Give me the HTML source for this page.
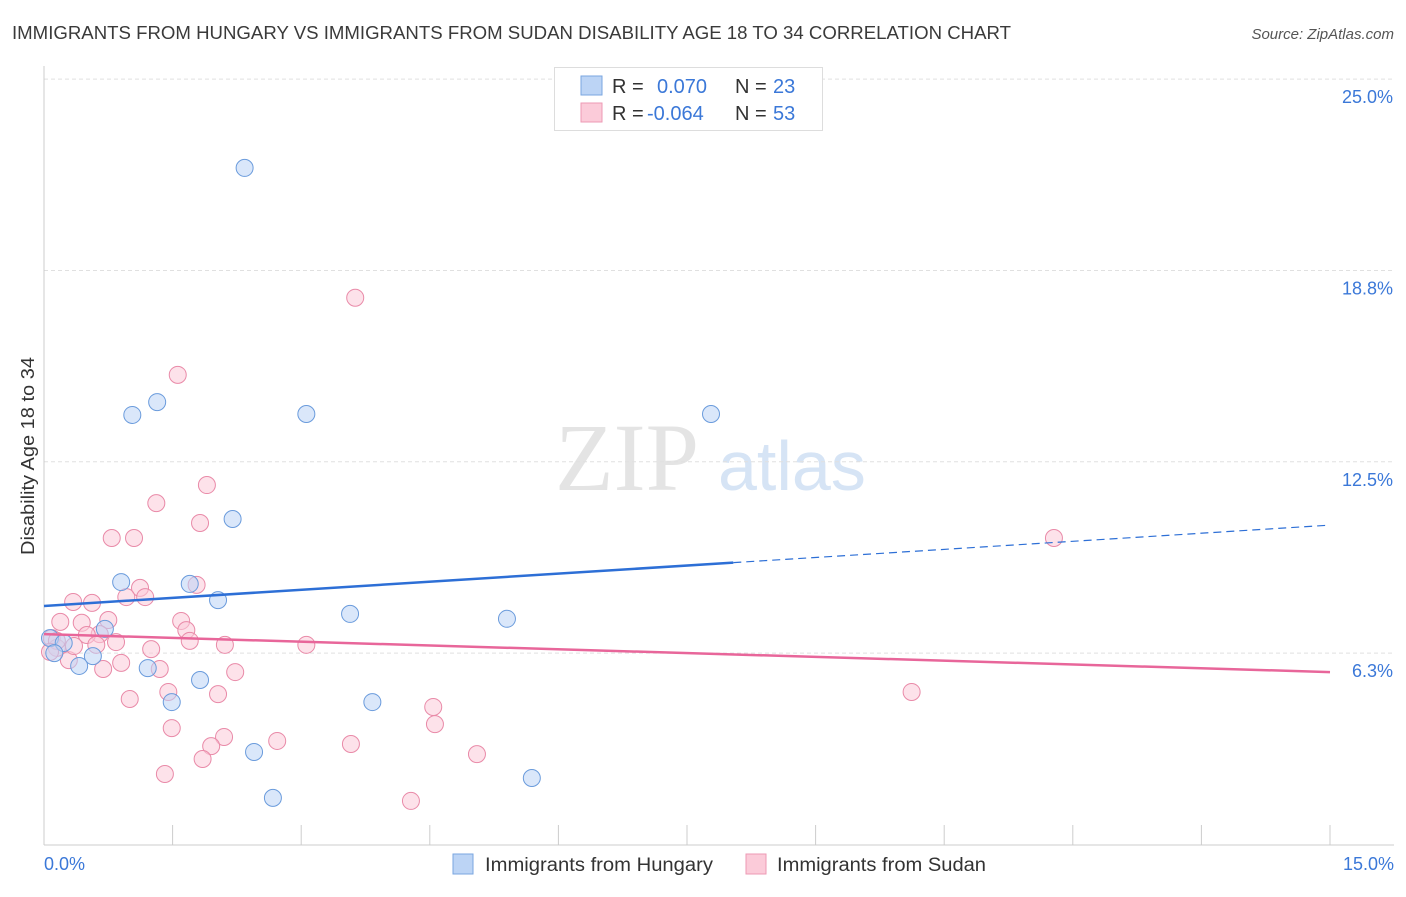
<!DOCTYPE html>
<html><head><meta charset="utf-8"><style>
body{margin:0;background:#fff;font-family:"Liberation Sans",sans-serif;}
</style></head><body>
<svg id="chart" width="1406" height="892" xmlns="http://www.w3.org/2000/svg">
<text x="12" y="39" font-size="18" fill="#3a3a3a" textLength="999" lengthAdjust="spacingAndGlyphs">IMMIGRANTS FROM HUNGARY VS IMMIGRANTS FROM SUDAN DISABILITY AGE 18 TO 34 CORRELATION CHART</text>
<text x="1394" y="39" font-size="15" fill="#555" font-style="italic" text-anchor="end">Source: ZipAtlas.com</text>
<text transform="translate(34,555) rotate(-90)" font-size="18" fill="#333" textLength="198" lengthAdjust="spacingAndGlyphs">Disability Age 18 to 34</text>
<g><text x="555" y="490" font-size="96" fill="#e4e4e4" font-family="Liberation Serif,serif">ZIP</text><text x="718" y="490" font-size="70" fill="#d6e4f5">atlas</text></g>
<g id="grid"></g><g id="axes"></g><g id="marks"></g>
<g>
<rect x="554.5" y="67.5" width="268" height="63" fill="#fff" stroke="#ddd"/>
<rect x="581" y="76" width="21" height="19" fill="#bcd4f5" stroke="#7aa6e0"/>
<rect x="581" y="103" width="21" height="19" fill="#fbcbd9" stroke="#ee9ab4"/>
<text x="612" y="93" font-size="20" fill="#333">R = </text><text x="657" y="93" font-size="20" fill="#3b78d8">0.070</text>
<text x="735" y="93" font-size="20" fill="#333">N = </text><text x="773" y="93" font-size="20" fill="#3b78d8">23</text>
<text x="612" y="120" font-size="20" fill="#333">R = </text><text x="647" y="120" font-size="20" fill="#3b78d8">-0.064</text>
<text x="735" y="120" font-size="20" fill="#333">N = </text><text x="773" y="120" font-size="20" fill="#3b78d8">53</text>
</g>
<g>
<rect x="453" y="854" width="20" height="20" fill="#bcd4f5" stroke="#7aa6e0"/>
<text x="485" y="871" font-size="19" fill="#333" textLength="228" lengthAdjust="spacingAndGlyphs">Immigrants from Hungary</text>
<rect x="746" y="854" width="20" height="20" fill="#fbcbd9" stroke="#ee9ab4"/>
<text x="777" y="871" font-size="19" fill="#333" textLength="209" lengthAdjust="spacingAndGlyphs">Immigrants from Sudan</text>
</g>
</svg>
<script>
const yTicks=[6.25,12.5,18.75,25];
const yTickLabels=["6.3%","12.5%","18.8%","25.0%"];
const xTickLabels=["0.0%","15.0%"];
const hungaryX=[2.34,1.03,1.32,3.06,7.78,2.20,0.90,1.70,2.03,0.71,3.57,5.40,0.07,0.23,0.12,0.57,0.41,1.21,1.82,1.49,3.83,2.45,5.69,2.67];
const hungaryY=[22.10,14.03,14.45,14.06,14.06,10.63,8.57,8.51,7.98,7.04,7.53,7.37,6.74,6.58,6.25,6.15,5.83,5.76,5.37,4.65,4.65,3.02,2.17,1.52];
const sudanX=[3.63,1.56,1.90,1.31,1.82,0.79,1.05,1.78,1.12,1.18,0.96,0.34,0.56,0.75,0.44,0.19,1.60,1.66,0.65,0.50,0.84,1.70,2.11,3.06,0.09,0.15,1.25,0.29,0.90,0.69,1.35,2.23,1.45,2.03,1.00,10.12,4.54,1.49,2.10,1.95,2.72,3.58,4.56,5.05,1.85,1.41,4.28,11.78,0.61,0.15,0.35,0.07];
const sudanY=[17.86,15.34,11.74,11.15,10.50,10.01,10.01,8.48,8.38,8.08,8.08,7.92,7.89,7.33,7.24,7.27,7.30,7.00,6.87,6.84,6.61,6.65,6.52,6.52,6.74,6.42,6.38,6.02,5.93,5.73,5.73,5.63,4.98,4.91,4.75,4.98,4.49,3.80,3.51,3.21,3.38,3.28,3.93,2.95,2.79,2.30,1.42,10.01,6.52,6.65,6.48,6.29];
const hungaryTrend=[7.79,10.43];
const sudanTrend=[6.87,5.63];
const hungarySolidEnd=8.04;

const NS="http://www.w3.org/2000/svg";
const X0=44,X1=1330,Y0=844.4,YS=30.61;
const sx=v=>X0+(v/15)*(X1-X0);
const sy=v=>Y0-v*YS;
function mk(tag,attrs,parent){const e=document.createElementNS(NS,tag);for(const k in attrs)e.setAttribute(k,attrs[k]);parent.appendChild(e);return e;}
const grid=document.getElementById('grid'),axes=document.getElementById('axes'),marks=document.getElementById('marks');
yTicks.forEach((t,i)=>{
 const l=mk('line',{x1:44,x2:1394,y1:sy(t),y2:sy(t),stroke:'#e0e0e0','stroke-dasharray':'4,3'},grid);
 
 
 const tx=mk('text',{x:1393,y:sy(t)+24,'font-size':18,fill:'#3b78d8','text-anchor':'end'},axes);
 tx.textContent=yTickLabels[i];
 
 
});
const ax=mk('line',{x1:44,x2:1394,y1:845,y2:845,stroke:'#ccc'},axes);


const ay=mk('line',{x1:44,x2:44,y1:66,y2:845,stroke:'#ccc'},axes);


for(let i=0;i<=10;i++){const v=i*1.5;const t=mk('line',{x1:sx(v),x2:sx(v),y1:825,y2:845,stroke:'#ccc'},axes);
 
 }
[[0,'start',44],[15,'end',1394]].forEach((a,i)=>{const t=mk('text',{x:a[2],y:870,'font-size':18,fill:'#3b78d8','text-anchor':a[1]},axes);t.textContent=xTickLabels[i];
 
 });
function pts(xs,ys,fill,stroke,name){xs.forEach((x,i)=>{const c=mk('circle',{cx:sx(x),cy:sy(ys[i]),r:8.5,fill:fill,stroke:stroke,'stroke-width':1,'fill-opacity':0.55},marks);
 
 });}
pts(sudanX,sudanY,'#fbcbd9','#e98aa8','sudan-point');
pts(hungaryX,hungaryY,'#bcd4f5','#6a9bdc','hungary-point');
const hv=x=>hungaryTrend[0]+(hungaryTrend[1]-hungaryTrend[0])*x/15;
const hl=mk('line',{x1:sx(0),y1:sy(hv(0)),x2:sx(hungarySolidEnd),y2:sy(hv(hungarySolidEnd)),stroke:'#2d6fd6','stroke-width':2.5},marks);


const hd=mk('line',{x1:sx(hungarySolidEnd),y1:sy(hv(hungarySolidEnd)),x2:sx(15),y2:sy(hv(15)),stroke:'#2d6fd6','stroke-width':1.2,'stroke-dasharray':'8,5'},marks);


const sl=mk('line',{x1:sx(0),y1:sy(sudanTrend[0]),x2:sx(15),y2:sy(sudanTrend[1]),stroke:'#e8669a','stroke-width':2.5},marks);


</script>
</body></html>
